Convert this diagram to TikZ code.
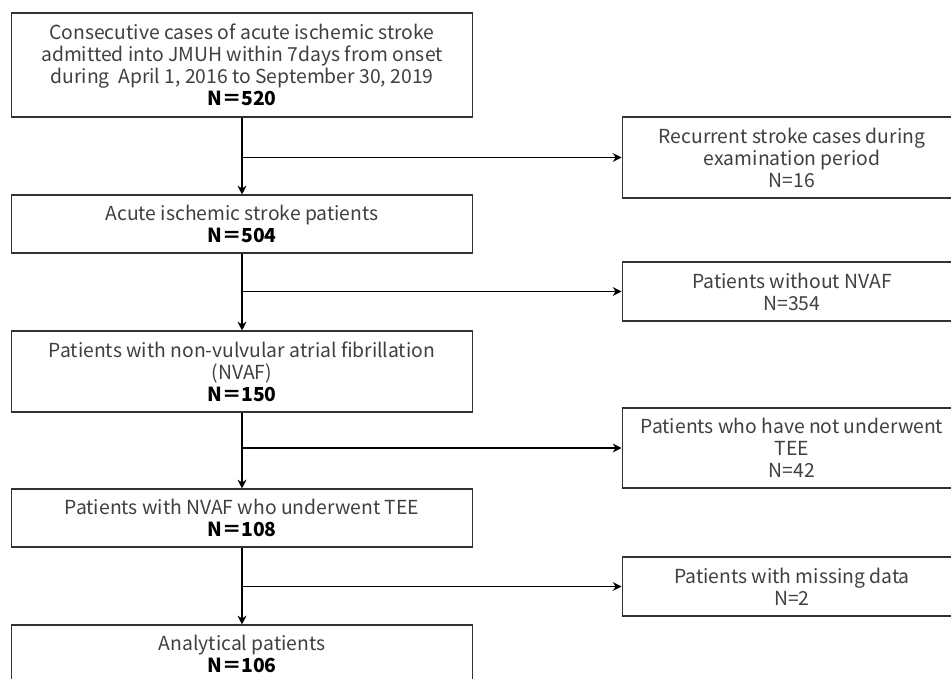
\documentclass[tikz,border=0pt]{standalone}
\usepackage{fontspec}
\setmainfont{Noto Sans CJK JP}
\usetikzlibrary{arrows.meta}

\begin{document}
\begin{tikzpicture}[x=0.02cm, y=-0.02cm]
    \tikzstyle{main box}=[
        draw = black!80,
        line width = 0.6pt,
        fill = white,
        text = black!75,
        align = center,
        inner sep = 0pt,
        minimum width = 9.24cm,
        font = \fontsize{11}{12.5}\selectfont
    ]
    \tikzstyle{side box}=[
        draw = black!80,
        line width = 0.6pt,
        fill = white,
        text = black!75,
        align = center,
        inner sep = 0pt,
        minimum width = 6.8cm,
        font = \fontsize{11}{12.5}\selectfont
    ]
    \tikzstyle{flow}=[
        line width = 1.1pt,
        -{Stealth[length=5pt, width=5pt]}
    ]

    \useasboundingbox (0, 0) rectangle (951, 679);
    \clip (0, 0) rectangle (951, 679);

	\node[main box, minimum height = 2.08cm] (all)  at (242, 65)
	    {Consecutive cases of acute ischemic stroke\\
	     admitted into JMUH within 7days from onset\\
	     during\ \ April 1, 2016 to September 30, 2019\\
	     \textcolor{black}{\textbf{N＝520}}};
	\node[main box, minimum height = 1.16cm] (ais)  at (242, 224)
	    {Acute ischemic stroke patients\\ \textcolor{black}{\textbf{N＝504}}};
	\node[main box, minimum height = 1.62cm] (nvaf) at (242, 371.5)
	    {Patients with non-vulvular atrial fibrillation\\ (NVAF)\\ \textcolor{black}{\textbf{N＝150}}};
	\node[main box, minimum height = 1.16cm] (tee)  at (242, 518)
	    {Patients with NVAF who underwent TEE\\ \textcolor{black}{\textbf{N＝108}}};
	\node[main box, minimum height = 1.16cm] (ana)  at (242, 654)
	    {Analytical patients\\ \textcolor{black}{\textbf{N＝106}}};

	\node[side box, minimum height = 1.62cm] (rec)  at (792, 157.5)
	    {Recurrent stroke cases during\\ examination period\\ N=16};
	\node[side box, minimum height = 1.18cm] (nonv) at (792, 291.5)
	    {Patients without NVAF\\ N=354};
	\node[side box, minimum height = 1.6cm]  (note) at (792, 448)
	    {Patients who have not underwent\\ TEE\\ N=42};
	\node[side box, minimum height = 1.18cm] (miss) at (792, 586.5)
	    {Patients with missing data\\ N=2};

	\draw[flow] (all) -- (ais);
	\draw[flow] (ais) -- (nvaf);
	\draw[flow] (nvaf) -- (tee);
	\draw[flow] (tee) -- (ana);

	\draw[flow] (all.south |- rec.west) -- (rec.west);
	\draw[flow] (ais.south |- nonv.west) -- (nonv.west);
	\draw[flow] (nvaf.south |- note.west) -- (note.west);
	\draw[flow] (tee.south |- miss.west) -- (miss.west);

	\end{tikzpicture}
\end{document}
